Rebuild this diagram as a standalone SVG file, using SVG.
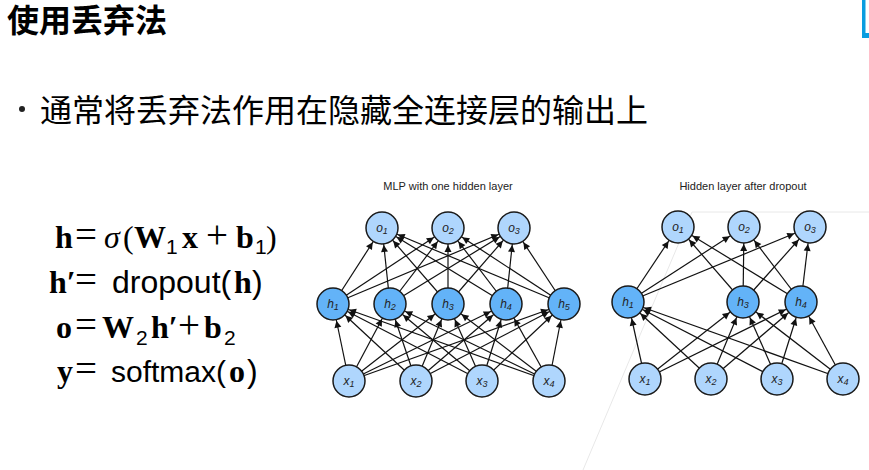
<svg xmlns="http://www.w3.org/2000/svg" width="869" height="470" viewBox="0 0 869 470">
<style>
.cjk{font-family:"Noto Sans CJK SC","Noto Sans",sans-serif;fill:#000}
.mb{font-family:"Liberation Serif",serif;font-weight:bold;font-size:32px}
.mr{font-family:"Liberation Serif",serif;font-size:32px}
.eq{font-family:"Liberation Serif",serif;font-size:39px}
.ms{font-family:"Liberation Sans",sans-serif;font-size:32px}
.ms2{font-family:"Liberation Sans",sans-serif;font-size:30px}
.sub{font-family:"Liberation Sans",sans-serif;font-size:21px}
.cap{font-family:"Liberation Sans",Arial,sans-serif;font-size:11px;fill:#222;text-anchor:middle}
.lab{font-family:"Liberation Sans",Arial,sans-serif;font-style:italic;font-size:12px;fill:#222;text-anchor:middle}
.lab tspan{font-size:9px}
.lt{fill:#afd6fd;stroke:#1a1a1a;stroke-width:1.5}
.dk{fill:#63b3f8;stroke:#1a1a1a;stroke-width:1.5}
.c line{stroke:#111;stroke-width:1.2;marker-end:url(#ah)}
</style>
<defs>
<marker id="ah" viewBox="0 0 10 10" markerUnits="userSpaceOnUse" markerWidth="7" markerHeight="7" refX="34.3" refY="5" orient="auto" overflow="visible">
<path d="M0,0 L10,5 L0,10 z" fill="#111"/>
</marker>
</defs>
<rect width="869" height="470" fill="#fff"/>
<path d="M862,0 V38 H869 V33 H865.5 V0 Z" fill="#0a9de0"/>
<polyline points="869,212 692,212 583,470" fill="none" stroke="#e8e8e8" stroke-width="1"/>
<text class="cjk" x="7" y="32" font-size="32" font-weight="bold">使用丢弃法</text>
<circle cx="22" cy="109" r="3" fill="#222"/>
<text class="cjk" x="40" y="122" font-size="32">通常将丢弃法作用在隐藏全连接层的输出上</text>
<g id="equations">
<text y="248"><tspan class="mb" x="55">h</tspan><tspan class="eq" x="75">=</tspan><tspan class="mr" x="104" font-style="italic">σ</tspan><tspan class="mr" x="123">(</tspan><tspan class="mb" x="134">W</tspan><tspan class="sub" x="166" y="254">1</tspan><tspan class="mb" x="182" y="248">x</tspan><tspan class="eq" x="206">+</tspan><tspan class="mb" x="236">b</tspan><tspan class="sub" x="255" y="254">1</tspan><tspan class="mr" x="266" y="248">)</tspan></text>
<text y="293"><tspan class="mb" x="49">h′</tspan><tspan class="eq" x="75">=</tspan><tspan class="ms" x="112">dropout(</tspan><tspan class="mb" x="234">h</tspan><tspan class="ms" x="252">)</tspan></text>
<text y="338"><tspan class="mb" x="56">o</tspan><tspan class="eq" x="75">=</tspan><tspan class="mb" x="102">W</tspan><tspan class="sub" x="136" y="345">2</tspan><tspan class="mb" x="151" y="338">h′</tspan><tspan class="eq" x="178">+</tspan><tspan class="mb" x="204">b</tspan><tspan class="sub" x="224" y="345">2</tspan></text>
<text y="382"><tspan class="mb" x="57">y</tspan><tspan class="eq" x="75">=</tspan><tspan class="ms2" x="111">softmax(</tspan><tspan class="mb" x="229">o</tspan><tspan class="ms" x="247">)</tspan></text>
</g>
<text class="cap" x="448" y="190">MLP with one hidden layer</text>
<text class="cap" x="743" y="190">Hidden layer after dropout</text>
<g id="connectors" class="c">
<line x1="349" y1="381" x2="333" y2="304"/><line x1="349" y1="381" x2="390" y2="304"/><line x1="349" y1="381" x2="448" y2="304"/><line x1="349" y1="381" x2="506" y2="304"/><line x1="349" y1="381" x2="564" y2="304"/>
<line x1="416" y1="381" x2="333" y2="304"/><line x1="416" y1="381" x2="390" y2="304"/><line x1="416" y1="381" x2="448" y2="304"/><line x1="416" y1="381" x2="506" y2="304"/><line x1="416" y1="381" x2="564" y2="304"/>
<line x1="482" y1="381" x2="333" y2="304"/><line x1="482" y1="381" x2="390" y2="304"/><line x1="482" y1="381" x2="448" y2="304"/><line x1="482" y1="381" x2="506" y2="304"/><line x1="482" y1="381" x2="564" y2="304"/>
<line x1="549" y1="381" x2="333" y2="304"/><line x1="549" y1="381" x2="390" y2="304"/><line x1="549" y1="381" x2="448" y2="304"/><line x1="549" y1="381" x2="506" y2="304"/><line x1="549" y1="381" x2="564" y2="304"/>
<line x1="333" y1="304" x2="382" y2="228"/><line x1="333" y1="304" x2="448" y2="228"/><line x1="333" y1="304" x2="514" y2="228"/>
<line x1="390" y1="304" x2="382" y2="228"/><line x1="390" y1="304" x2="448" y2="228"/><line x1="390" y1="304" x2="514" y2="228"/>
<line x1="448" y1="304" x2="382" y2="228"/><line x1="448" y1="304" x2="448" y2="228"/><line x1="448" y1="304" x2="514" y2="228"/>
<line x1="506" y1="304" x2="382" y2="228"/><line x1="506" y1="304" x2="448" y2="228"/><line x1="506" y1="304" x2="514" y2="228"/>
<line x1="564" y1="304" x2="382" y2="228"/><line x1="564" y1="304" x2="448" y2="228"/><line x1="564" y1="304" x2="514" y2="228"/>
<line x1="645" y1="379" x2="628" y2="302"/><line x1="645" y1="379" x2="743" y2="302"/><line x1="645" y1="379" x2="801" y2="302"/>
<line x1="711" y1="379" x2="628" y2="302"/><line x1="711" y1="379" x2="743" y2="302"/><line x1="711" y1="379" x2="801" y2="302"/>
<line x1="777" y1="379" x2="628" y2="302"/><line x1="777" y1="379" x2="743" y2="302"/><line x1="777" y1="379" x2="801" y2="302"/>
<line x1="843" y1="379" x2="628" y2="302"/><line x1="843" y1="379" x2="743" y2="302"/><line x1="843" y1="379" x2="801" y2="302"/>
<line x1="628" y1="302" x2="678" y2="227"/><line x1="628" y1="302" x2="744" y2="227"/><line x1="628" y1="302" x2="810" y2="227"/>
<line x1="743" y1="302" x2="678" y2="227"/><line x1="743" y1="302" x2="744" y2="227"/><line x1="743" y1="302" x2="810" y2="227"/>
<line x1="801" y1="302" x2="678" y2="227"/><line x1="801" y1="302" x2="744" y2="227"/><line x1="801" y1="302" x2="810" y2="227"/>
</g>
<g id="L-o1"><circle class="lt" cx="382" cy="228" r="16"/><text class="lab" x="382" y="232">o<tspan dy="2">1</tspan></text></g>
<g id="L-o2"><circle class="lt" cx="448" cy="228" r="16"/><text class="lab" x="448" y="232">o<tspan dy="2">2</tspan></text></g>
<g id="L-o3"><circle class="lt" cx="514" cy="228" r="16"/><text class="lab" x="514" y="232">o<tspan dy="2">3</tspan></text></g>
<g id="L-h1"><circle class="dk" cx="333" cy="304" r="16"/><text class="lab" x="333" y="308">h<tspan dy="2">1</tspan></text></g>
<g id="L-h2"><circle class="dk" cx="390" cy="304" r="16"/><text class="lab" x="390" y="308">h<tspan dy="2">2</tspan></text></g>
<g id="L-h3"><circle class="dk" cx="448" cy="304" r="16"/><text class="lab" x="448" y="308">h<tspan dy="2">3</tspan></text></g>
<g id="L-h4"><circle class="dk" cx="506" cy="304" r="16"/><text class="lab" x="506" y="308">h<tspan dy="2">4</tspan></text></g>
<g id="L-h5"><circle class="dk" cx="564" cy="304" r="16"/><text class="lab" x="564" y="308">h<tspan dy="2">5</tspan></text></g>
<g id="L-x1"><circle class="lt" cx="349" cy="381" r="16"/><text class="lab" x="349" y="385">x<tspan dy="2">1</tspan></text></g>
<g id="L-x2"><circle class="lt" cx="416" cy="381" r="16"/><text class="lab" x="416" y="385">x<tspan dy="2">2</tspan></text></g>
<g id="L-x3"><circle class="lt" cx="482" cy="381" r="16"/><text class="lab" x="482" y="385">x<tspan dy="2">3</tspan></text></g>
<g id="L-x4"><circle class="lt" cx="549" cy="381" r="16"/><text class="lab" x="549" y="385">x<tspan dy="2">4</tspan></text></g>
<g id="R-o1"><circle class="lt" cx="678" cy="227" r="16"/><text class="lab" x="678" y="231">o<tspan dy="2">1</tspan></text></g>
<g id="R-o2"><circle class="lt" cx="744" cy="227" r="16"/><text class="lab" x="744" y="231">o<tspan dy="2">2</tspan></text></g>
<g id="R-o3"><circle class="lt" cx="810" cy="227" r="16"/><text class="lab" x="810" y="231">o<tspan dy="2">3</tspan></text></g>
<g id="R-h1"><circle class="dk" cx="628" cy="302" r="16"/><text class="lab" x="628" y="306">h<tspan dy="2">1</tspan></text></g>
<g id="R-h3"><circle class="dk" cx="743" cy="302" r="16"/><text class="lab" x="743" y="306">h<tspan dy="2">3</tspan></text></g>
<g id="R-h4"><circle class="dk" cx="801" cy="302" r="16"/><text class="lab" x="801" y="306">h<tspan dy="2">4</tspan></text></g>
<g id="R-x1"><circle class="lt" cx="645" cy="379" r="16"/><text class="lab" x="645" y="383">x<tspan dy="2">1</tspan></text></g>
<g id="R-x2"><circle class="lt" cx="711" cy="379" r="16"/><text class="lab" x="711" y="383">x<tspan dy="2">2</tspan></text></g>
<g id="R-x3"><circle class="lt" cx="777" cy="379" r="16"/><text class="lab" x="777" y="383">x<tspan dy="2">3</tspan></text></g>
<g id="R-x4"><circle class="lt" cx="843" cy="379" r="16"/><text class="lab" x="843" y="383">x<tspan dy="2">4</tspan></text></g>
</svg>
